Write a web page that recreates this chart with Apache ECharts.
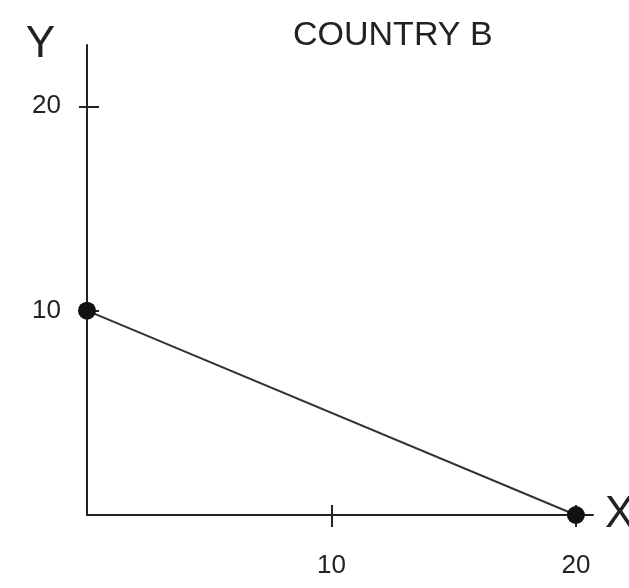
<!DOCTYPE html>
<html>
<head>
<meta charset="utf-8">
<script src="https://cdn.jsdelivr.net/npm/echarts@6/dist/echarts.min.js"></script>
<style>
  html, body { margin: 0; padding: 0; background: #fff; }
  #main { width: 629px; height: 588px; }
</style>
</head>
<body>
<div id="main"></div>
<script>
// line points for country B: (x, y)
const xValues = [0, 20];
const yValues = [10, 0];
const tickValues = [10, 20];
const titleText = "COUNTRY B";

let myChart = echarts.init(document.getElementById("main"));
const ink = "#222";
const font = "Liberation Sans";

const points = xValues.map((x, i) => [x, yValues[i]]);

let option = {
  backgroundColor: "#fff",
  animation: false,
  title: {
    text: titleText,
    left: 288,
    top: 14,
    textStyle: { color: ink, fontFamily: font, fontWeight: "normal", fontSize: 34 }
  },
  grid: { left: 87, top: 45, right: 36, bottom: 73, outerBoundsMode: "none" },
  xAxis: [
    {
      type: "value",
      min: 0,
      max: 20.7,
      interval: 10,
      name: "X",
      nameLocation: "end",
      nameGap: 12,
      nameTextStyle: { color: ink, fontFamily: font, fontSize: 44, verticalAlign: "middle" },
      axisLine: { lineStyle: { color: ink, width: 2 } },
      axisTick: { show: true, length: 12, customValues: tickValues, lineStyle: { color: ink, width: 2 } },
      axisLabel: { color: ink, fontFamily: font, fontSize: 26, margin: 38, customValues: tickValues },
      splitLine: { show: false }
    },
    {
      type: "value",
      position: "bottom",
      min: 0,
      max: 20.7,
      interval: 10,
      axisLine: { show: false },
      axisTick: { show: true, inside: true, length: 10, customValues: tickValues, lineStyle: { color: ink, width: 2 } },
      axisLabel: { show: false },
      splitLine: { show: false }
    }
  ],
  yAxis: [
    {
      type: "value",
      min: 0,
      max: 23,
      interval: 10,
      name: "Y",
      nameLocation: "end",
      nameGap: 0,
      nameTextStyle: { color: ink, fontFamily: font, fontSize: 44, align: "right", verticalAlign: "middle", padding: [0, 32, 0, 0] },
      axisLine: { show: true, lineStyle: { color: ink, width: 2 } },
      axisTick: { show: true, length: 8, customValues: tickValues, lineStyle: { color: ink, width: 2 } },
      axisLabel: { color: ink, fontFamily: font, fontSize: 26, margin: 26, customValues: tickValues },
      splitLine: { show: false }
    },
    {
      type: "value",
      position: "left",
      min: 0,
      max: 23,
      interval: 10,
      axisLine: { show: false },
      axisTick: { show: true, inside: true, length: 12, customValues: tickValues, lineStyle: { color: ink, width: 2 } },
      axisLabel: { show: false },
      splitLine: { show: false }
    }
  ],
  series: [
    {
      type: "line",
      data: points,
      symbol: "circle",
      symbolSize: 18,
      itemStyle: { color: "#111" },
      lineStyle: { color: "#333", width: 2 }
    }
  ]
};
myChart.setOption(option);
</script>
</body>
</html>
